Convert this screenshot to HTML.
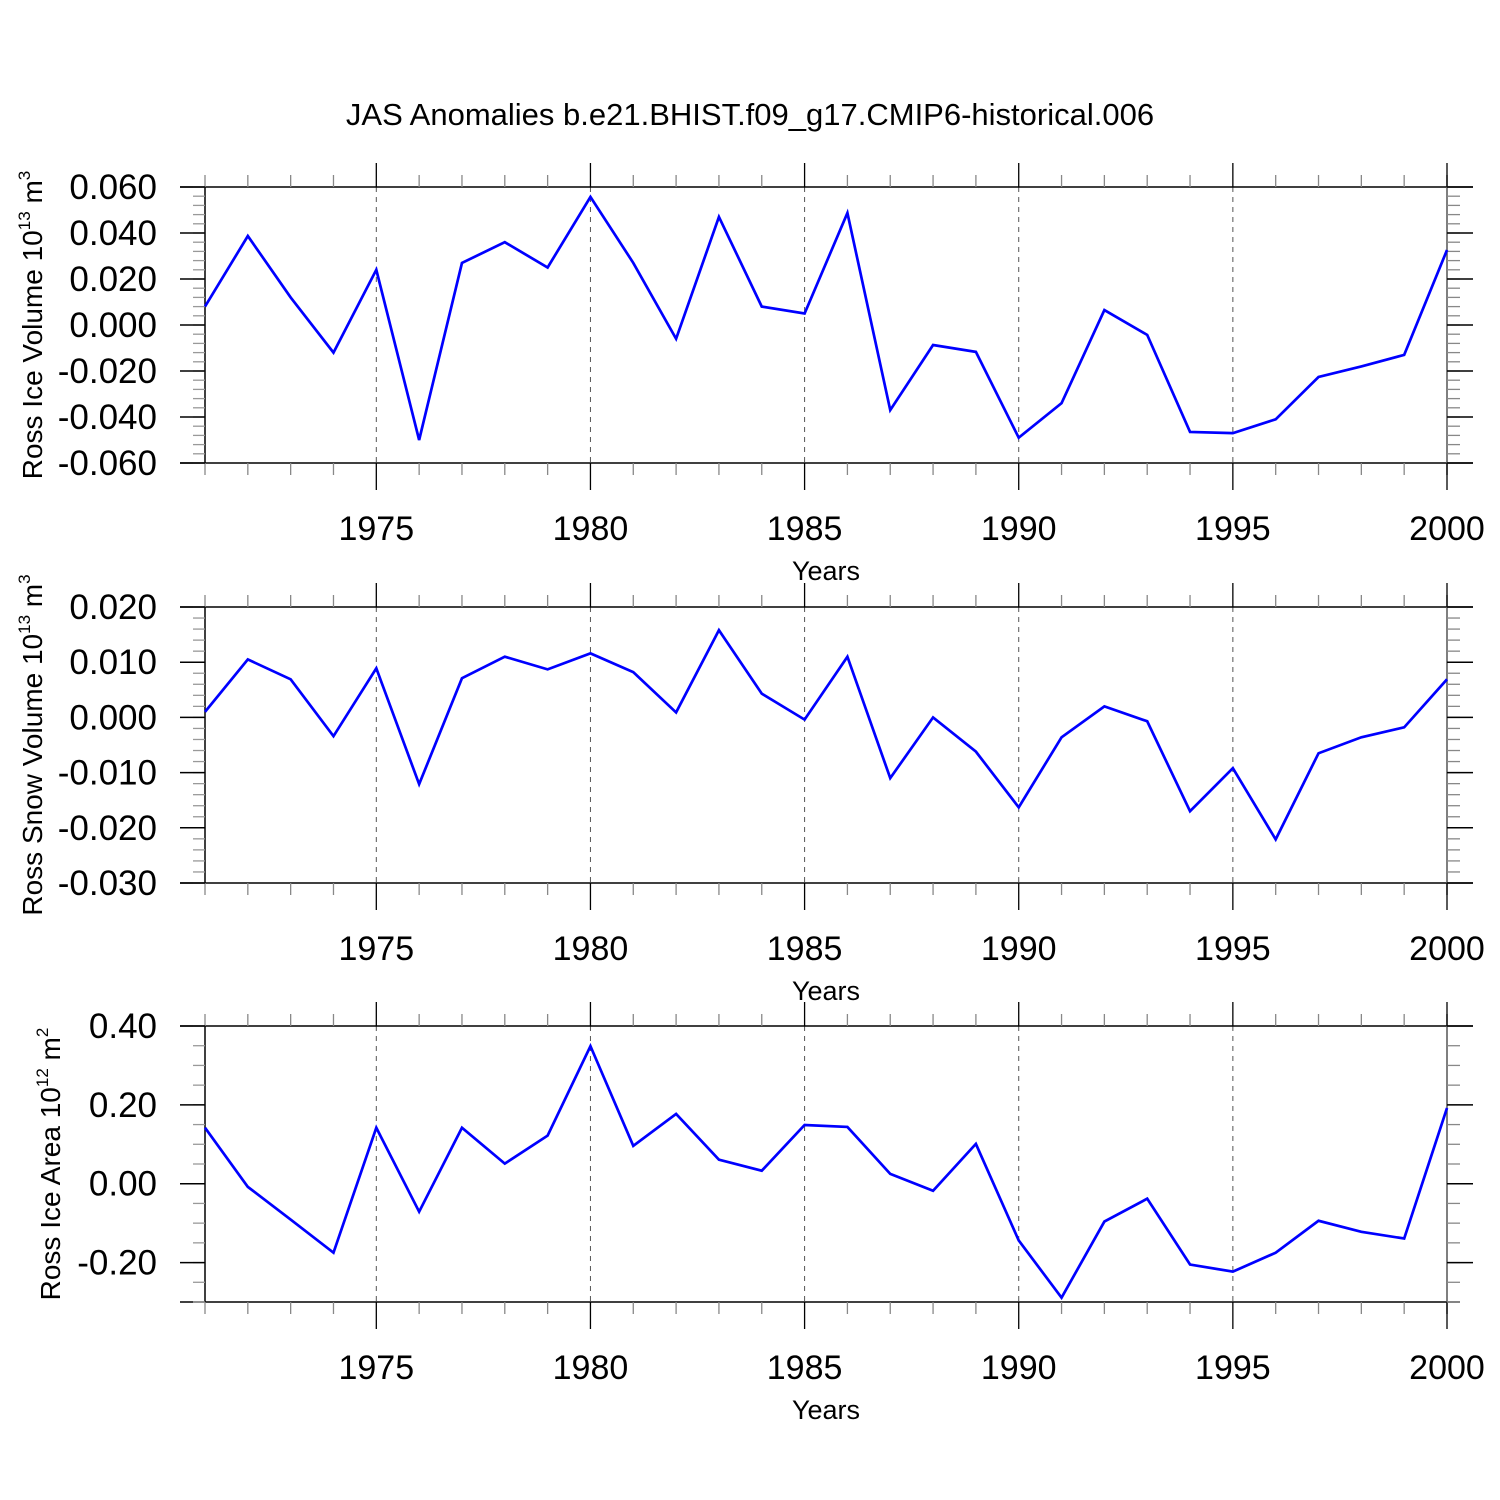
<!DOCTYPE html>
<html><head><meta charset="utf-8"><style>body{margin:0;background:#fff}svg{display:block}text{font-family:"Liberation Sans",sans-serif;fill:#000}</style></head>
<body>
<svg id="c" width="1500" height="1500" viewBox="0 0 1500 1500">
<text x="750" y="125" font-size="31" text-anchor="middle">JAS Anomalies b.e21.BHIST.f09_g17.CMIP6-historical.006</text>
</svg>
<script>
const years = [1971,1972,1973,1974,1975,1976,1977,1978,1979,1980,1981,1982,1983,1984,1985,1986,1987,1988,1989,1990,1991,1992,1993,1994,1995,1996,1997,1998,1999,2000];
const iceVolume = [0.008,0.0387,0.012,-0.012,0.024,-0.050,0.027,0.036,0.025,0.0557,0.027,-0.006,0.047,0.008,0.005,0.0487,-0.037,-0.0087,-0.0117,-0.049,-0.034,0.0065,-0.0043,-0.0465,-0.047,-0.041,-0.0226,-0.018,-0.013,0.0326];
const snowVolume = [0.001,0.0105,0.0069,-0.0034,0.0089,-0.0121,0.0071,0.011,0.0087,0.0116,0.0082,0.0009,0.0158,0.0043,-0.0004,0.011,-0.011,0.0,-0.0062,-0.0163,-0.0036,0.002,-0.0007,-0.017,-0.0092,-0.0221,-0.0065,-0.0036,-0.0018,0.0069];
const iceArea = [0.142,-0.008,-0.091,-0.175,0.142,-0.071,0.142,0.051,0.122,0.349,0.096,0.177,0.061,0.033,0.149,0.144,0.025,-0.018,0.101,-0.144,-0.289,-0.096,-0.038,-0.205,-0.223,-0.175,-0.094,-0.122,-0.139,0.192];
const xTickLabels = [1975,1980,1985,1990,1995,2000];
const iceVolTicks = [-0.06,-0.04,-0.02,0,0.02,0.04,0.06];
const snowTicks = [-0.03,-0.02,-0.01,0,0.01,0.02];
const areaTicks = [-0.2,0,0.2,0.4];

const svg=document.getElementById('c');const NS='http://www.w3.org/2000/svg';
function mk(t,a,p){const e=document.createElementNS(NS,t);for(const k in a)e.setAttribute(k,a[k]);(p||svg).appendChild(e);return e;}
const X0=205,X1=1447;
const xs=y=>X0+(y-1971)*(X1-X0)/29;
function panel(o){
  const g=mk('g',{});
  
  
  const ys=v=>o.top+(o.ymax-v)*(o.bot-o.top)/(o.ymax-o.ymin);
  xTickLabels.slice(0,5).forEach(yr=>{const l=mk('line',{x1:xs(yr),x2:xs(yr),y1:o.top,y2:o.bot,stroke:'#555','stroke-width':1,'stroke-dasharray':'5,5'},g);
    
    });
  mk('line',{x1:180,x2:1473,y1:o.top,y2:o.top,stroke:'#000','stroke-width':1.5},g);
  mk('line',{x1:180,x2:o.bfull?1473:1460,y1:o.bot,y2:o.bot,stroke:'#000','stroke-width':1.5},g);
  mk('line',{x1:X0,x2:X0,y1:o.top,y2:o.bot,stroke:'#000','stroke-width':1.5},g);
  mk('line',{x1:X1,x2:X1,y1:o.top-12,y2:o.bot+12,stroke:'#555','stroke-width':1.5},g);
  for(let yr=1971;yr<=2000;yr++){const maj=yr%5===0;const x=xs(yr);
    mk('line',{x1:x,x2:x,y1:o.top-(maj?24:12),y2:o.top,stroke:maj?'#000':'#888','stroke-width':1.3},g);
    mk('line',{x1:x,x2:x,y1:o.bot,y2:o.bot+(maj?27:12),stroke:maj?'#000':'#888','stroke-width':1.3},g);}
  xTickLabels.forEach(yr=>{const t=mk('text',{x:xs(yr),y:o.bot+77,'font-size':34,'text-anchor':'middle'},g);t.textContent=yr;
    
    });
  const xt=mk('text',{x:826,y:o.bot+117,'font-size':27,'text-anchor':'middle'},g);xt.textContent='Years';
  
  
  for(let v=o.ymin;v<=o.ymax+1e-9;v+=o.minor){const y=ys(v);if(y<o.top-0.5||y>o.bot+0.5)continue;
    mk('line',{x1:193,x2:X0,y1:y,y2:y,stroke:'#999','stroke-width':1.3},g);
    mk('line',{x1:X1,x2:1460,y1:y,y2:y,stroke:'#888','stroke-width':1.3},g);}
  o.ticks.forEach(v=>{const y=ys(v);
    mk('line',{x1:180,x2:X0,y1:y,y2:y,stroke:'#000','stroke-width':1.5},g);
    mk('line',{x1:X1,x2:1473,y1:y,y2:y,stroke:'#000','stroke-width':1.5},g);
    const t=mk('text',{x:157,y:y+12,'font-size':35,'text-anchor':'end'},g);t.textContent=v.toFixed(o.dec);
    
    });
  const yt=mk('text',{transform:`translate(${o.tx},${(o.top+o.bot)/2}) rotate(-90)`,'font-size':28,'text-anchor':'middle'},g);
  yt.innerHTML=o.label+'<tspan dy="-12" font-size="17">'+o.exp+'</tspan><tspan dy="12"> m</tspan><tspan dy="-12" font-size="17">'+o.mexp+'</tspan>';
  
  
  const pts=years.map((yr,i)=>xs(yr)+','+ys(o.data[i])).join(' ');
  const pl=mk('polyline',{points:pts,fill:'none',stroke:'#0000ff','stroke-width':2.7,'stroke-linejoin':'miter'},g);
  
  
}
panel({name:'ice-volume-panel',top:187,bot:463,ymin:-0.06,ymax:0.06,minor:0.004,ticks:iceVolTicks,dec:3,data:iceVolume,label:'Ross Ice Volume 10',exp:'13',mexp:'3',tx:42,bfull:true});
panel({name:'snow-volume-panel',top:607,bot:883,ymin:-0.03,ymax:0.02,minor:0.002,ticks:snowTicks,dec:3,data:snowVolume,label:'Ross Snow Volume 10',exp:'13',mexp:'3',tx:42,bfull:true});
panel({name:'ice-area-panel',top:1026,bot:1302,ymin:-0.3,ymax:0.4,minor:0.05,ticks:areaTicks,dec:2,data:iceArea,label:'Ross Ice Area 10',exp:'12',mexp:'2',tx:60,bfull:false});
</script>
</body></html>
